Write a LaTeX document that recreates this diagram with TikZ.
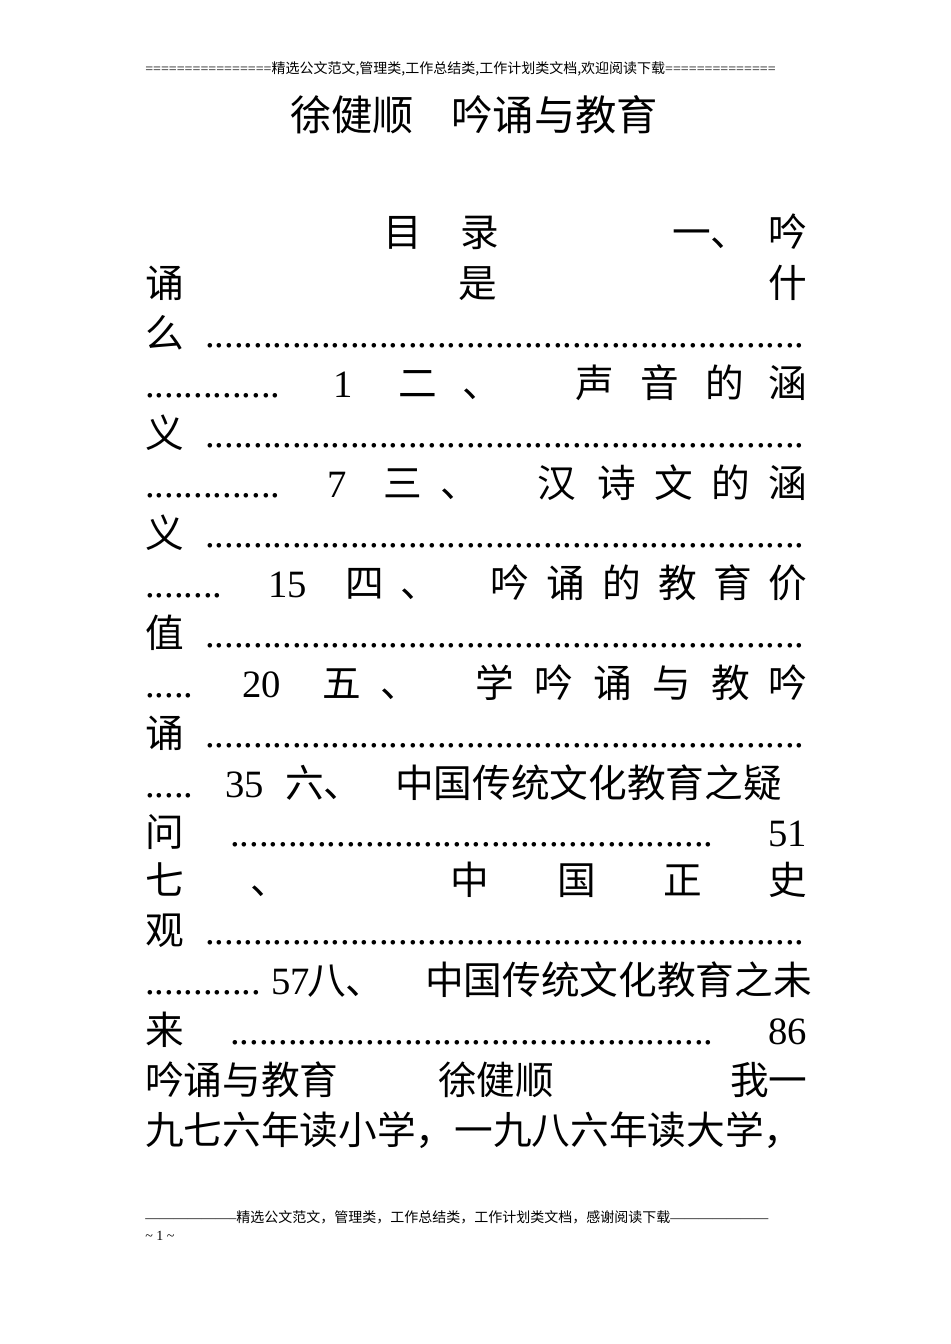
\documentclass[tikz,border=0pt]{standalone}
\usepackage{fontspec}
\setmainfont{Liberation Serif}
\newfontfamily\cjk{Noto Sans CJK SC}
\newcommand{\dotrun}[1]{\makebox[#1]{\leaders\hbox{.}\hfill}}
\begin{document}
\begin{tikzpicture}[x=0.75pt,y=-0.75pt,
  t/.style={anchor=base west,inner sep=0pt,font=\fontsize{29pt}{29pt}\selectfont\cjk},
  n/.style={anchor=base west,inner sep=0pt,font=\fontsize{29pt}{29pt}\selectfont},
  small/.style={anchor=base west,inner sep=0pt,font=\fontsize{10.5pt}{10.5pt}\selectfont}]
\useasboundingbox[fill=white] (0,0) rectangle (950,1344);
% header
\node[small] (hd) at (145,74) {================{\cjk 精选公文范文,管理类,工作总结类,工作计划类文档,欢迎阅读下载}==============};
% title
\node[anchor=base west,inner sep=0pt,font=\fontsize{31pt}{31pt}\selectfont\cjk] (ti) at (290,131) {徐健顺\hspace{0.9em}吟诵与教育};
% L1
\node[t] (a1) at (383,247) {目}; \node[t] (a2) at (460,247) {录}; \node[t] (a3) at (672,247) {一、}; \node[t] (a4) at (768,247) {吟};
% L2
\node[t] (b1) at (145,297) {诵}; \node[t] (b2) at (458,297) {是}; \node[t] (b3) at (768,297) {什};
% L3
\node[t] (c1) at (145,347) {么}; \node[n] (c2) at (205,347) {\dotrun{450pt}};
% L4
\node[n] (d0) at (145,397) {\dotrun{103pt}}; \node[n] (d1) at (333,397) {1};
\node[t] (d2) at (398,397) {二}; \node[t] (d3) at (462,397) {、};
\node[t] (d4) at (575,397) {声}; \node[t] (d5) at (640,397) {音}; \node[t] (d6) at (705,397) {的}; \node[t] (d7) at (768,397) {涵};
% L5
\node[t] (e1) at (145,447) {义}; \node[n] (e2) at (205,447) {\dotrun{450pt}};
% L6
\node[n] (f0) at (145,497) {\dotrun{103pt}}; \node[n] (f1) at (327,497) {7};
\node[t] (f2) at (383,497) {三}; \node[t] (f3) at (440,497) {、};
\node[t] (f4) at (537,497) {汉}; \node[t] (f5) at (597,497) {诗}; \node[t] (f6) at (654,497) {文}; \node[t] (f7) at (711,497) {的}; \node[t] (f8) at (768,497) {涵};
% L7
\node[t] (g1) at (145,547) {义}; \node[n] (g2) at (205,547) {\dotrun{450pt}};
% L8
\node[n] (h0) at (145,597) {\dotrun{62pt}}; \node[n] (h1) at (268,597) {15};
\node[t] (h2) at (345,597) {四}; \node[t] (h3) at (400,597) {、};
\node[t] (h4) at (490,597) {吟}; \node[t] (h5) at (546,597) {诵}; \node[t] (h6) at (602,597) {的}; \node[t] (h7) at (658,597) {教}; \node[t] (h8) at (713,597) {育}; \node[t] (h9) at (768,597) {价};
% L9
\node[t] (i1) at (145,647) {值}; \node[n] (i2) at (205,647) {\dotrun{450pt}};
% L10
\node[n] (j0) at (145,697) {\dotrun{41pt}}; \node[n] (j1) at (242,697) {20};
\node[t] (j2) at (322,697) {五}; \node[t] (j3) at (380,697) {、};
\node[t] (j4) at (475,697) {学}; \node[t] (j5) at (534,697) {吟}; \node[t] (j6) at (593,697) {诵}; \node[t] (j7) at (652,697) {与}; \node[t] (j8) at (711,697) {教}; \node[t] (j9) at (768,697) {吟};
% L11
\node[t] (k1) at (145,747) {诵}; \node[n] (k2) at (205,747) {\dotrun{450pt}};
% L12
\node[n] (l0) at (145,797) {\dotrun{41pt}}; \node[n] (l1) at (225,797) {35};
\node[t] (l2) at (285,797) {六、}; \node[t] (l3) at (395,797) {中国传统文化教育之疑};
% L13
\node[t] (m1) at (145,846) {问}; \node[n] (m2) at (230,846) {\dotrun{366pt}}; \node[n] (m3) at (768,846) {51};
% L14
\node[t] (o1) at (145,894) {七}; \node[t] (o2) at (250,894) {、}; \node[t] (o3) at (450,894) {中}; \node[t] (o4) at (557,894) {国}; \node[t] (o5) at (663,894) {正}; \node[t] (o6) at (768,894) {史};
% L15
\node[t] (p1) at (145,944) {观}; \node[n] (p2) at (205,944) {\dotrun{450pt}};
% L16
\node[n] (q0) at (145,994) {\dotrun{88pt}}; \node[n] (q1) at (271,994) {57};
\node[t] (q2) at (307,994) {八、}; \node[t] (q3) at (425,994) {中国传统文化教育之未};
% L17
\node[t] (r1) at (145,1044) {来}; \node[n] (r2) at (230,1044) {\dotrun{366pt}}; \node[n] (r3) at (768,1044) {86};
% L18
\node[t] (s1) at (145,1094) {吟诵与教育}; \node[t] (s2) at (438,1094) {徐健顺}; \node[t] (s3) at (730,1094) {我一};
% L19
\node[t] (u1) at (145,1144) {九七六年读小学，一九八六年读大学，};
% footer
\node[small] (ft) at (145,1222) {--------------------{\cjk 精选公文范文，管理类，工作总结类，工作计划类文档，感谢阅读下载}---------------------};
\node[small] (pg) at (145,1240) {\textasciitilde\ 1 \textasciitilde};
\end{tikzpicture}
\end{document}
